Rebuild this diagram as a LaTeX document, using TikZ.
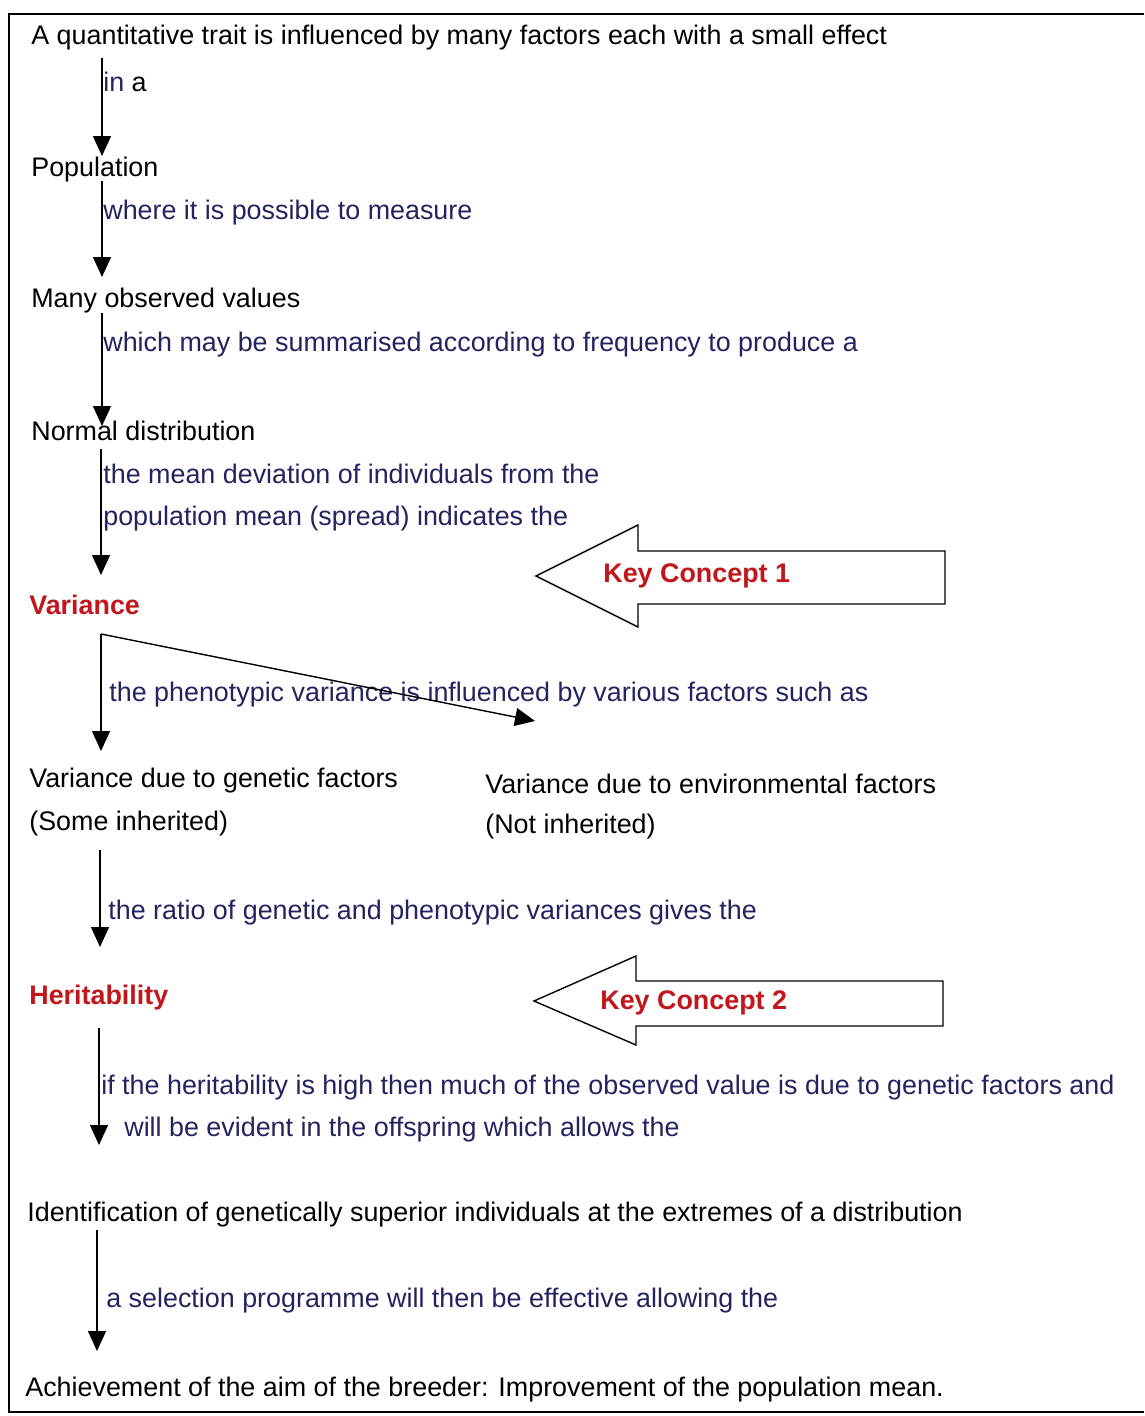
\documentclass[tikz,border=0pt]{standalone}
\usepackage{fontspec}
\setmainfont{Liberation Sans}
\usetikzlibrary{arrows.meta}
\definecolor{linkblue}{RGB}{35,35,95}
\definecolor{keyred}{RGB}{192,22,28}

\begin{document}
\begin{tikzpicture}[x=0.02cm,y=-0.02cm,
  stage/.style={anchor=west,inner sep=0pt,yshift=-0.055cm,font=\fontsize{15.3}{18}\selectfont},
  link/.style={stage,text=linkblue},
  key/.style={stage,text=keyred,font=\fontsize{15.3}{18}\selectfont\bfseries},
  flow/.style={thick,-{Triangle[length=0.4cm,width=0.36cm]}}]
\useasboundingbox (0,0) rectangle (1144,1416);
\draw[line width=1.6pt] (1144,14) -- (9,14) -- (9,1412) -- (1144,1412);

% stages
\node[stage] (trait) at (31,35) {A quantitative trait is influenced by many factors each with a small effect};
\node[stage] (pop) at (31,167) {Population};
\node[stage] (values) at (31,298) {Many observed values};
\node[stage] (normal) at (31,428) {Normal distribution};
\node[key] (var) at (29,602) {Variance};
\node[stage] (gen) at (29,778) {Variance due to genetic factors};
\node[stage] (genb) at (29,821) {(Some inherited)};
\node[stage] (env) at (485,781) {Variance due to environmental factors};
\node[stage] (envb) at (485,824) {(Not inherited)};
\node[key] (her) at (29,995) {Heritability};
\node[stage] (ident) at (27,1212) {Identification of genetically superior individuals at the extremes of a distribution};
\node[stage] (aim) at (25,1387) {Achievement of the aim of the breeder: Improvement of the population mean.};

% linking phrases
\node[link] (ina) at (103,79) {in \textcolor{black}{a}};
\node[link] (measure) at (103,210) {where it is possible to measure};
\node[link] (summ) at (103,342) {which may be summarised according to frequency to produce a};
\node[link] (dev1) at (103,471) {the mean deviation of individuals from the};
\node[link] (dev2) at (103,516) {population mean (spread) indicates the};
\node[link] (pheno) at (109,692) {the phenotypic variance is influenced by various factors such as};
\node[link] (ratio) at (108,910) {the ratio of genetic and phenotypic variances gives the};
\node[link] (high1) at (101,1085) {if the heritability is high then much of the observed value is due to genetic factors and};
\node[link] (high2) at (124,1127) {will be evident in the offspring which allows the};
\node[link] (sel) at (106,1298) {a selection programme will then be effective allowing the};

% connectors
\coordinate (s1) at (102,58);   \coordinate (e1) at (102,156);
\coordinate (s2) at (102,181);  \coordinate (e2) at (102,277);
\coordinate (s3) at (102,313);  \coordinate (e3) at (102,426);
\coordinate (s4) at (101,449);  \coordinate (e4) at (101,575);
\coordinate (s5) at (101,634);  \coordinate (e5) at (101,751);
\coordinate (e6) at (535,721);
\coordinate (s7) at (100,850);  \coordinate (e7) at (100,947);
\coordinate (s8) at (99,1028);  \coordinate (e8) at (99,1145);
\coordinate (s9) at (97,1230);  \coordinate (e9) at (97,1351);
\foreach \a in {1,2,3,4,5,7,8,9}
  \draw[flow] (s\a) -- (e\a);
\draw[flow] (s5) -- (e6);

% key concept arrows
\draw[thick] (536,576) -- (638,525) -- (638,551) -- (945,551) -- (945,604)
  -- (638,604) -- (638,627) -- cycle;
\node[key] (kc1) at (603,573) {Key Concept 1};
\draw[thick] (534,1001) -- (636,956) -- (636,981) -- (943,981) -- (943,1026)
  -- (636,1026) -- (636,1045) -- cycle;
\node[key] (kc2) at (600,1000) {Key Concept 2};
\end{tikzpicture}
\end{document}
